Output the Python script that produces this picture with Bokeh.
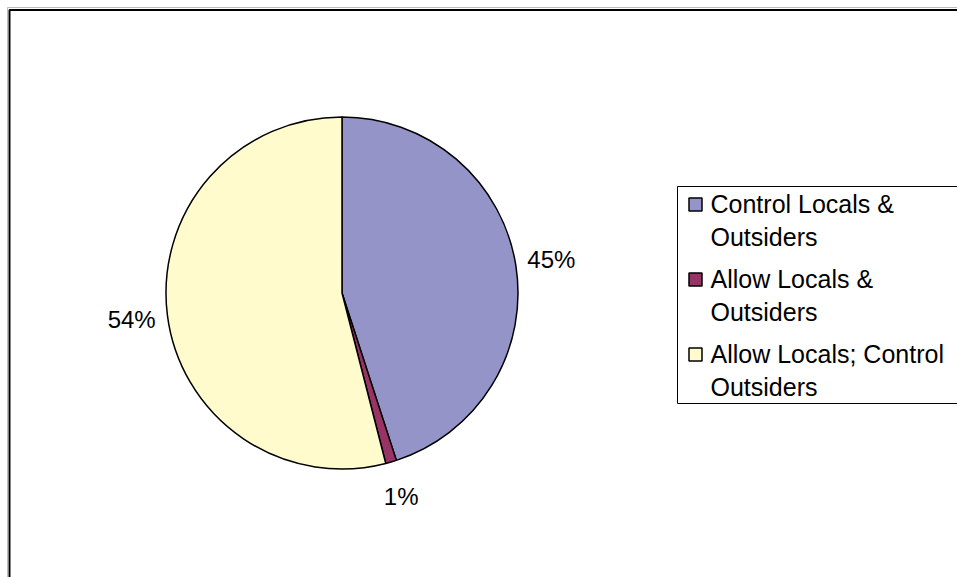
import numpy as np
from bokeh.plotting import figure
from bokeh.models import Range1d
from bokeh.embed import file_html
from bokeh.resources import INLINE
from bokeh.core.properties import value

# ---- data ----
categories = ["Control Locals & Outsiders", "Allow Locals & Outsiders", "Allow Locals; Control Outsiders"]
legend_lines = [["Control Locals &", "Outsiders"],
                ["Allow Locals &", "Outsiders"],
                ["Allow Locals; Control", "Outsiders"]]
shares = [45, 1, 54]
pct_labels = ["45%", "1%", "54%"]
colors = ["#9494C9", "#993366", "#FFFBCD"]

# ---- styling / layout ----
W, H = 957, 577
FONT = "Liberation Sans"
cx, cy_s, R = 341.5, 292.5, 176.0     # pie centre (screen y) and radius
label_dist = 212.0
leg_left, leg_top, leg_bottom = 677, 186, 403
leg_pitch, line_h = 75, 33

def sy(y):
    return H - y

p = figure(width=W, height=H, x_range=Range1d(0, W), y_range=Range1d(0, H),
           output_backend="svg", toolbar_location=None, min_border=0,
           x_axis_location=None, y_axis_location=None)
p.grid.visible = False
p.outline_line_color = None
p.background_fill_color = "white"
p.border_fill_color = "white"

# outer chart frame (extends past the window on right/bottom)
p.quad(left=[7], right=[1100], top=[sy(7)], bottom=[sy(700)],
       fill_color=None, line_color="#BBBBBB", line_width=1)
p.quad(left=[9], right=[1100], top=[sy(9.5)], bottom=[sy(700)],
       fill_color=None, line_color="black", line_width=2)

# pie
total = float(sum(shares))
cum = np.concatenate([[0.0], np.cumsum(shares)]) / total
starts = np.pi / 2 - 2 * np.pi * cum[:-1]
ends = np.pi / 2 - 2 * np.pi * cum[1:]
p.wedge(x=cx, y=sy(cy_s), radius=R, start_angle=list(starts), end_angle=list(ends),
        direction="clock", fill_color=colors, line_color="black", line_width=1.5)

mids = (starts + ends) / 2
lx = cx + label_dist * np.cos(mids)
ly = sy(cy_s) + label_dist * np.sin(mids)
p.text(x=list(lx), y=list(ly), text=pct_labels, text_font=value(FONT),
       text_font_size="24px", text_align="center", text_baseline="middle",
       text_color="black")

# legend box
p.quad(left=[leg_left], right=[1100], top=[sy(leg_top)], bottom=[sy(leg_bottom)],
       fill_color="white", line_color="black", line_width=1)

mx, my, tx, ty, tt = [], [], [], [], []
for i, lines in enumerate(legend_lines):
    y0 = leg_top + 17 + i * leg_pitch
    mx.append(leg_left + 18)
    my.append(sy(y0 + 1))
    for j, ln in enumerate(lines):
        tx.append(leg_left + 33)
        ty.append(sy(y0 + j * line_h))
        tt.append(ln)
p.rect(x=mx, y=my, width=13, height=13, fill_color=colors, line_color="black", line_width=1.5)
p.text(x=tx, y=ty, text=tt, text_font=value(FONT), text_font_size="25px",
       text_align="left", text_baseline="middle", text_color="black")

open("out.html", "w").write(file_html(p, INLINE))
